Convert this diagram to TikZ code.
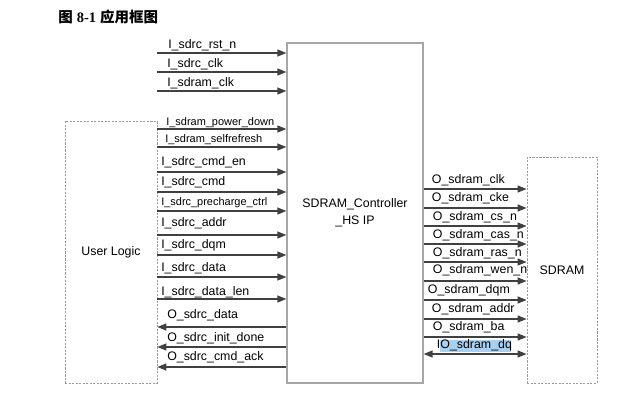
\documentclass[tikz,border=0pt]{standalone}
\usepackage{xcolor}
\usepackage{fontspec}
\setmainfont{Liberation Sans}
\newfontfamily\cjk{Noto Sans CJK SC}
\newfontfamily\capserif{Liberation Serif}
\usepackage{tikz}
\usetikzlibrary{arrows.meta,positioning,calc}

\definecolor{linegray}{HTML}{404040}
\definecolor{boxgray}{HTML}{A6A6A6}
\definecolor{dashgray}{HTML}{9A9A9A}
\definecolor{selblue}{HTML}{A8D0F0}
\newcommand{\sigfont}{\fontsize{8.8pt}{11.9pt}\selectfont}
\newcommand{\smallsigfont}{\fontsize{7.8pt}{9.5pt}\selectfont}

\begin{document}
\begin{tikzpicture}[
  x=0.025cm, y=-0.025cm,
  >={Triangle[length=6.4pt,width=5pt]},
  ipbox/.style={rectangle,draw=boxgray,line width=0.9pt,inner sep=0pt,align=center,font=\sigfont},
  logicbox/.style={rectangle,draw=dashgray,line width=0.6pt,dash pattern=on 1.5pt off 1pt,inner sep=0pt,font=\sigfont},
  sig/.style={anchor=base west,inner sep=0pt,font=\sigfont},
  smallsig/.style={sig,font=\smallsigfont},
  wire/.style={draw=linegray,line width=0.95pt},
]
\useasboundingbox (0,0) rectangle (640,408);

% Caption
\node[anchor=west,inner sep=0pt,font=\fontsize{10.3pt}{12pt}\selectfont] (cap) at (58,17)
  {{\cjk\bfseries 图} {\capserif\bfseries 8-1} {\cjk\bfseries 应用框图}};

% Blocks
\node[logicbox,minimum width=2.3cm,minimum height=6.55cm] (ul) at (111,252) {User Logic};
\node[ipbox,minimum width=3.4cm,minimum height=8.5cm] (ctrl) at (355,213) {SDRAM\_Controller\\\_HS IP};
\node[logicbox,minimum width=1.75cm,minimum height=5.65cm] (sd) at (562,270) {SDRAM};

% User Logic -> Controller
\node[sig] (rstn) at (168,48) {I\_sdrc\_rst\_n};
\node[sig] (sdrcclk) at (167,67.7) {I\_sdrc\_clk};
\node[sig] (sdramclk) at (167,86.7) {I\_sdram\_clk};
\node[smallsig] (pdown) at (166,125) {I\_sdram\_power\_down};
\node[smallsig] (selfref) at (165,142.7) {I\_sdram\_selfrefresh};
\node[sig] (cmden) at (161,165) {I\_sdrc\_cmd\_en};
\node[sig] (cmd) at (161,185) {I\_sdrc\_cmd};
\node[smallsig] (prech) at (161,205) {I\_sdrc\_precharge\_ctrl};
\node[sig] (addr) at (161,226) {I\_sdrc\_addr};
\node[sig] (dqm) at (161,248.3) {I\_sdrc\_dqm};
\node[sig] (wdata) at (161,271.7) {I\_sdrc\_data};
\node[sig] (dlen) at (161,295) {I\_sdrc\_data\_len};
\node[sig] (rdata) at (167,318.3) {O\_sdrc\_data};
\node[sig] (initdone) at (167,341.7) {O\_sdrc\_init\_done};
\node[sig] (cmdack) at (167,360.7) {O\_sdrc\_cmd\_ack};

\draw[wire,->] (ul.east |- 0,53) -- (ctrl.west |- 0,53);
\draw[wire,->] (ul.east |- 0,72) -- (ctrl.west |- 0,72);
\draw[wire,->] (ul.east |- 0,91) -- (ctrl.west |- 0,91);
\draw[wire,->] (ul.east |- 0,129) -- (ctrl.west |- 0,129);
\draw[wire,->] (ul.east |- 0,147) -- (ctrl.west |- 0,147);
\draw[wire,->] (ul.east |- 0,172) -- (ctrl.west |- 0,172);
\draw[wire,->] (ul.east |- 0,192) -- (ctrl.west |- 0,192);
\draw[wire,->] (ul.east |- 0,211) -- (ctrl.west |- 0,211);
\draw[wire,->] (ul.east |- 0,235) -- (ctrl.west |- 0,235);
\draw[wire,->] (ul.east |- 0,255) -- (ctrl.west |- 0,255);
\draw[wire,->] (ul.east |- 0,277) -- (ctrl.west |- 0,277);
\draw[wire,->] (ul.east |- 0,299) -- (ctrl.west |- 0,299);
\draw[wire,<-] (ul.east |- 0,327) -- (ctrl.west |- 0,327);
\draw[wire,<-] (ul.east |- 0,347) -- (ctrl.west |- 0,347);
\draw[wire,<-] (ul.east |- 0,367) -- (ctrl.west |- 0,367);

% Controller -> SDRAM
\fill[selblue] (440,340) rectangle (511,352);
\node[sig] (oclk) at (431.7,183.3) {O\_sdram\_clk};
\node[sig] (ocke) at (431.7,201.7) {O\_sdram\_cke};
\node[sig] (ocs) at (432.7,220) {O\_sdram\_cs\_n};
\node[sig] (ocas) at (432.7,238.3) {O\_sdram\_cas\_n};
\node[sig] (oras) at (432.7,256) {O\_sdram\_ras\_n};
\node[sig] (owen) at (432.7,273.3) {O\_sdram\_wen\_n};
\node[sig] (odqm) at (427.7,293.3) {O\_sdram\_dqm};
\node[sig] (oaddr) at (431.7,312.3) {O\_sdram\_addr};
\node[sig] (oba) at (432.7,330.7) {O\_sdram\_ba};
\node[sig] (iodq) at (436.7,348.3) {IO\_sdram\_dq};

\draw[wire,->] (ctrl.east |- 0,189) -- (sd.west |- 0,189);
\draw[wire,->] (ctrl.east |- 0,208) -- (sd.west |- 0,208);
\draw[wire,->] (ctrl.east |- 0,226) -- (sd.west |- 0,226);
\draw[wire,->] (ctrl.east |- 0,244) -- (sd.west |- 0,244);
\draw[wire,->] (ctrl.east |- 0,262) -- (sd.west |- 0,262);
\draw[wire,->] (ctrl.east |- 0,281) -- (sd.west |- 0,281);
\draw[wire,->] (ctrl.east |- 0,300) -- (sd.west |- 0,300);
\draw[wire,->] (ctrl.east |- 0,319) -- (sd.west |- 0,319);
\draw[wire,->] (ctrl.east |- 0,337) -- (sd.west |- 0,337);
\draw[wire,<->] (ctrl.east |- 0,354) -- (sd.west |- 0,354);

\end{tikzpicture}
\end{document}
